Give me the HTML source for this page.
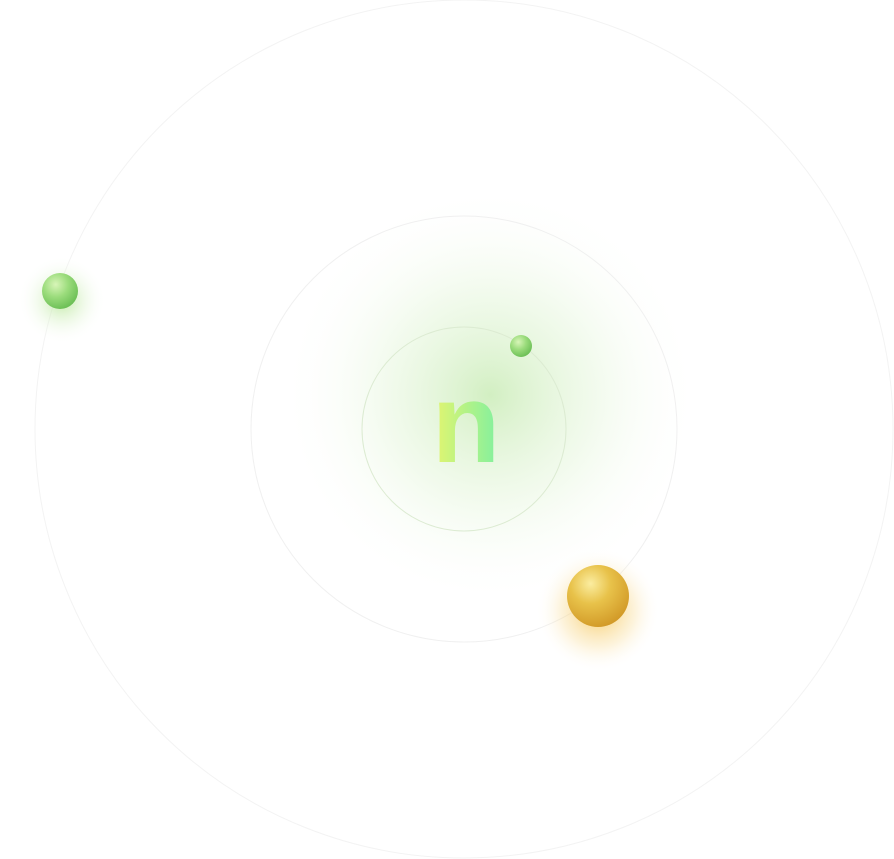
<!DOCTYPE html>
<html><head><meta charset="utf-8"><style>
html,body{margin:0;padding:0;background:#fff;width:894px;height:859px;overflow:hidden}
svg{display:block}
</style></head><body>
<svg width="894" height="859" viewBox="0 0 894 859" xmlns="http://www.w3.org/2000/svg">
<defs>
<radialGradient id="glow" cx="50%" cy="50%" r="50%">
<stop offset="0" stop-color="#bfe8a8" stop-opacity="0.7"/>
<stop offset="0.5" stop-color="#daf2cc" stop-opacity="0.35"/>
<stop offset="1" stop-color="#ffffff" stop-opacity="0"/>
</radialGradient>
<radialGradient id="gball" cx="38%" cy="32%" r="70%">
<stop offset="0" stop-color="#d8f5b8"/>
<stop offset="0.5" stop-color="#9bdc7c"/>
<stop offset="1" stop-color="#6cbf56"/>
</radialGradient>
<radialGradient id="yball" cx="38%" cy="30%" r="72%">
<stop offset="0" stop-color="#fbeda0"/>
<stop offset="0.45" stop-color="#e8c24a"/>
<stop offset="1" stop-color="#d29a28"/>
</radialGradient>
<radialGradient id="yglow" cx="50%" cy="50%" r="50%">
<stop offset="0" stop-color="#f5c04a" stop-opacity="0.85"/>
<stop offset="0.6" stop-color="#f8d88a" stop-opacity="0.3"/>
<stop offset="1" stop-color="#ffffff" stop-opacity="0"/>
</radialGradient>
<radialGradient id="gglow" cx="50%" cy="50%" r="50%">
<stop offset="0" stop-color="#a6e07e" stop-opacity="0.7"/>
<stop offset="1" stop-color="#ffffff" stop-opacity="0"/>
</radialGradient>
<linearGradient id="ngrad" x1="0" y1="0" x2="1" y2="0">
<stop offset="0" stop-color="#e6f56e"/>
<stop offset="1" stop-color="#7ff0a0"/>
</linearGradient>
</defs>
<circle cx="490" cy="395" r="210" fill="url(#glow)"/>
<circle cx="464" cy="429" r="429" fill="none" stroke="#f3f3f3" stroke-width="1"/>
<circle cx="464" cy="429" r="213" fill="none" stroke="#f0f0f0" stroke-width="1"/>
<circle cx="464" cy="429" r="102" fill="none" stroke="#dcebd2" stroke-width="1"/>
<text x="466" y="462" text-anchor="middle" font-family="Liberation Sans, sans-serif" font-weight="bold" font-size="112" fill="url(#ngrad)">n</text>
<circle cx="62" cy="300" r="44" fill="url(#gglow)"/>
<circle cx="60" cy="291" r="18" fill="url(#gball)"/>
<circle cx="521" cy="346" r="11" fill="url(#gball)"/>
<circle cx="598" cy="610" r="62" fill="url(#yglow)"/>
<circle cx="598" cy="596" r="31" fill="url(#yball)"/>
</svg>
</body></html>
